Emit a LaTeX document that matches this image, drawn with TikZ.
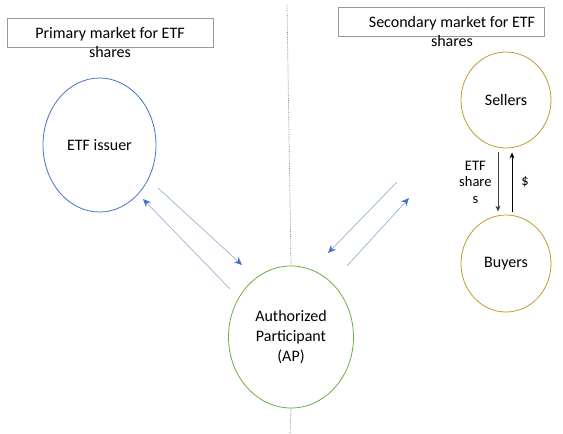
\documentclass[tikz,border=0pt]{standalone}
\usepackage{fontspec}
\setmainfont{Carlito}
\usetikzlibrary{positioning}
\usetikzlibrary{arrows.meta}
\usetikzlibrary{shapes.geometric}
\definecolor{issuerblue}{HTML}{4472C4}
\definecolor{flowblue}{HTML}{97B1E0}
\definecolor{apgreen}{HTML}{70AD47}
\definecolor{tradegold}{HTML}{C29A34}
\definecolor{boxgray}{HTML}{999999}
\tikzset{marketbox/.style={rectangle,draw=boxgray,fill=white,
inner sep=0pt,minimum height=29pt, minimum width=206pt}}
\tikzset{markettext/.style={align=center,inner sep=0pt,
font=\fontsize{16}{19.5}\selectfont}}
\tikzset{party/.style={ellipse,draw,fill=white,inner sep=0pt,
align=center,line width=0.8pt,font=\fontsize{16}{20}\selectfont}}
\tikzset{flow/.style={line width=0.7pt,draw=flowblue,
-{Stealth[length=8pt,width=7pt,color=issuerblue]}}}
\tikzset{trade/.style={line width=0.9pt,-{Stealth[length=6pt,width=5pt]}}}
\tikzset{divider/.style={draw=gray,densely dotted,line width=0.7pt}}

\begin{document}
\begin{tikzpicture}[x=1pt,y=-1pt]
        \useasboundingbox (0,0) rectangle (563,434);

        \node[marketbox] (primbox) at (110, 33) { };
        \node[markettext] (primtext) at (110, 42.5) {Primary market for ETF\\shares};
        \node[marketbox] (secbox) at (441.5, 21.5) { };
        \node[markettext] (sectext) at (452, 31.5) {Secondary market for ETF\\shares};

        \node[party, draw=issuerblue, minimum width=113pt, minimum height=134pt] (issuer) at (99.5, 145) {ETF issuer};
        \node[party, draw=apgreen, minimum width=125pt, minimum height=142pt] (ap) at (291, 337) {Authorized\\Participant\\(AP)};
        \node[party, draw=tradegold, minimum width=90pt, minimum height=96pt] (sellers) at (506, 100) {Sellers};
        \node[party, draw=tradegold, minimum width=90pt, minimum height=97pt] (buyers) at (506, 263.5) {Buyers};

        % dotted divider between the two markets
        \coordinate (divtop) at (287, 5);
        \coordinate (divbot) at (290, 434);
        \draw [divider] (divtop) -- (ap.north);
        \draw [divider] (ap.south) -- (divbot);

        % primary market flows
        \coordinate (issuerout) at (158, 188);
        \coordinate (apin) at (242, 265);
        \coordinate (apout) at (230, 289);
        \coordinate (issuerin) at (143, 199);
        \draw [flow] (issuerout) -- (apin);
        \draw [flow] (apout) -- (issuerin);

        % secondary market flows
        \coordinate (mktout) at (397, 182);
        \coordinate (apinr) at (328, 253);
        \coordinate (apoutr) at (347, 266);
        \coordinate (mktin) at (409, 198);
        \draw [flow] (mktout) -- (apinr);
        \draw [flow] (apoutr) -- (mktin);

        % trades between sellers and buyers
        \draw [trade, draw=black!75] ([xshift=-8pt, yshift=-4pt]sellers.south) --node[left=6pt, align=center, inner sep=0pt, font=\fontsize{14.5}{16.5}\selectfont] {ETF\\share\\s} ([xshift=-8pt, yshift=3pt]buyers.north);
        \draw [trade] ([xshift=6pt, yshift=3pt]buyers.north) --node[right=9pt, inner sep=0pt, font=\fontsize{14.5}{16.5}\selectfont] {\$} ([xshift=6pt, yshift=-4pt]sellers.south);

    \end{tikzpicture}
\end{document}
